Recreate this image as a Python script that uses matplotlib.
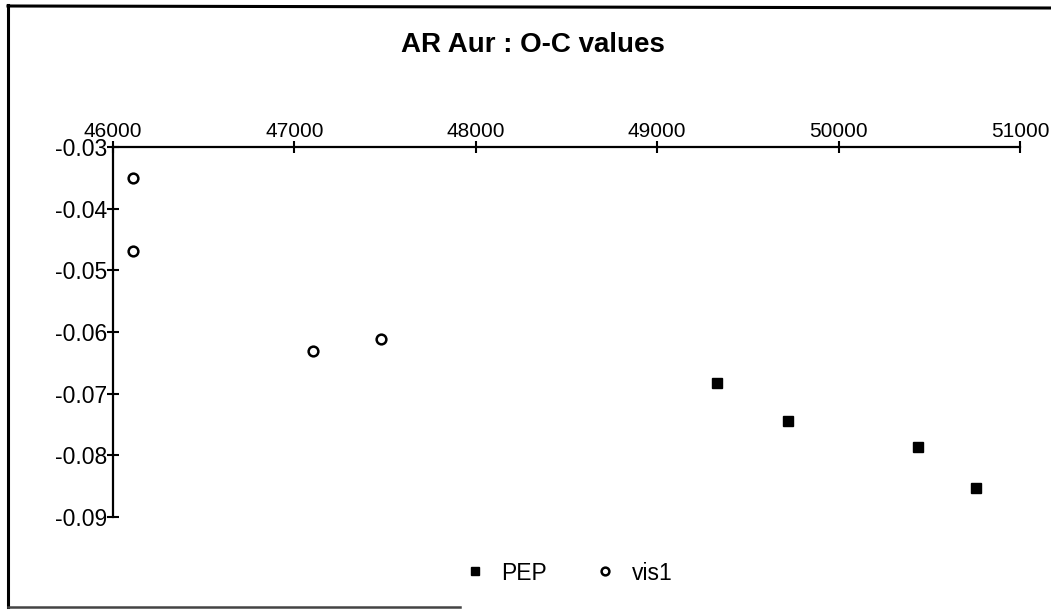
import matplotlib
matplotlib.use("Agg")
import matplotlib.pyplot as plt
from matplotlib.lines import Line2D
import warnings
warnings.filterwarnings("ignore")

# Data
title = "AR Aur : O-C values"
pep_x = [49330, 49720, 50440, 50755]
pep_y = [-0.0683, -0.0744, -0.0786, -0.0853]
vis1_x = [46110, 46110, 47100, 47480]
vis1_y = [-0.0350, -0.0468, -0.0631, -0.0611]
x_ticks = [46000, 47000, 48000, 49000, 50000, 51000]
y_ticks = [-0.03, -0.04, -0.05, -0.06, -0.07, -0.08, -0.09]
y_tick_labels = ["-0.03", "-0.04", "-0.05", "-0.06", "-0.07", "-0.08", "-0.09"]
series_names = ["PEP", "vis1"]

W, H = 1051, 612
fig = plt.figure(figsize=(W / 100, H / 100), dpi=100)
font = ["Liberation Sans", "DejaVu Sans"]

ax = fig.add_axes([113 / W, 1 - 517 / H, (1020 - 113) / W, (517 - 147) / H])
ax.set_xlim(46000, 51000)
ax.set_ylim(-0.09, -0.03)

ax.plot(pep_x, pep_y, linestyle="none", marker="s", markersize=7,
        color="black", label=series_names[0], clip_on=False)
ax.plot(vis1_x, vis1_y, linestyle="none", marker="o", markersize=7,
        markerfacecolor="white", markeredgecolor="black", markeredgewidth=1.8,
        label=series_names[1], clip_on=False)

for s in ["right", "bottom"]:
    ax.spines[s].set_visible(False)
for s in ["top", "left"]:
    ax.spines[s].set_linewidth(1.6)

ax.xaxis.tick_top()
ax.set_xticks(x_ticks)
ax.set_xticklabels([str(v) for v in x_ticks])
ax.set_yticks(y_ticks)
ax.set_yticklabels(y_tick_labels)
ax.tick_params(axis="both", direction="inout", length=9, width=1.5, color="black")
ax.tick_params(axis="x", pad=0)
ax.tick_params(axis="y", pad=0)
for lab in ax.get_xticklabels():
    lab.set_family(font)
    lab.set_fontsize(15)
for lab in ax.get_yticklabels():
    lab.set_family(font)
    lab.set_fontsize(16.5)

fig.text(533 / W, 1 - 45 / H, title, ha="center", va="center",
         fontsize=20, fontweight="bold", family=font)

leg = fig.legend(loc="center", bbox_to_anchor=(566 / W, 1 - 573 / H), ncol=2,
                 frameon=False, prop={"family": font, "size": 16.5},
                 handletextpad=0.5, columnspacing=1.9, handlelength=1.3,
                 markerscale=0.8)

# Outer frame (partially visible in the scan)
fig.add_artist(Line2D([8 / W, 8 / W], [1 - 5 / H, 1 - 607 / H], transform=fig.transFigure,
                      color="black", linewidth=2.2))
fig.add_artist(Line2D([8 / W, 1.0], [1 - 6 / H, 1 - 8 / H], transform=fig.transFigure,
                      color="black", linewidth=2.2))
fig.add_artist(Line2D([8 / W, 460 / W], [1 - 607 / H, 1 - 607 / H], transform=fig.transFigure,
                      color="#444444", linewidth=1.8))

fig.savefig("out.png", dpi=100)
